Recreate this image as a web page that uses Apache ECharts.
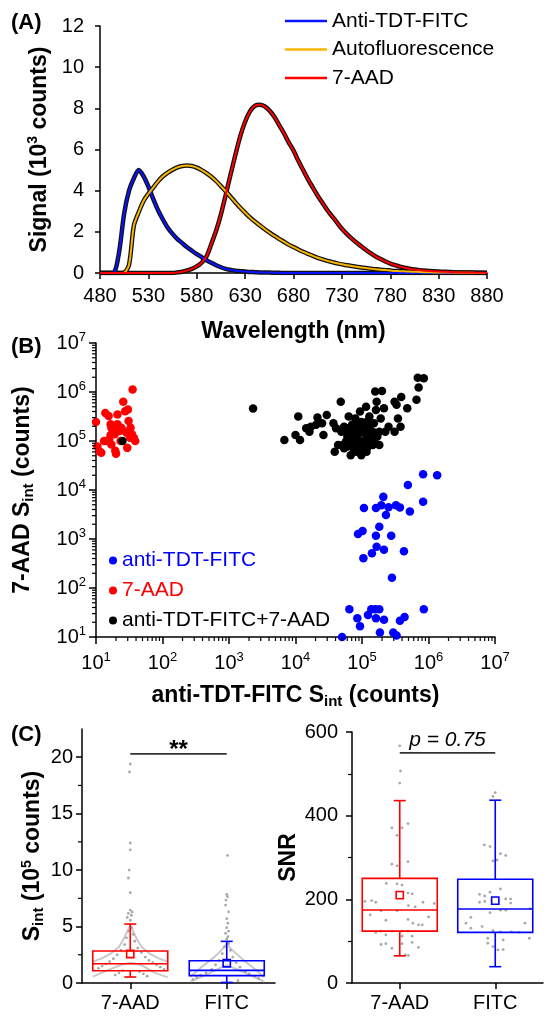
<!DOCTYPE html>
<html><head><meta charset="utf-8">
<script src="https://cdn.jsdelivr.net/npm/echarts@6.0.0/dist/echarts.min.js"></script>
<style>html,body{margin:0;padding:0;background:#fff;}#chart{width:550px;height:1018px;}</style>
</head><body><div id="chart"></div>
<script>
const FONT = 'Liberation Sans, Arial, sans-serif';

// ---------- Panel A: spectra ----------
const wavelengths = [
480,485,490,495,500,505,510,515,520,525,
530,535,540,545,550,555,560,565,570,575,
580,585,590,595,600,605,610,615,620,625,
630,635,640,645,650,655,660,665,670,675,
680,685,690,695,700,705,710,715,720,725,
730,735,740,745,750,755,760,765,770,775,
780,785,790,795,800,805,810,815,820,825,
830,835,840,845,850,855,860,865,870,875,
880];
const fitcSpectrum = [
0,0,0,0.05,1.1,2.9,4.0,4.6,5.0,4.7,
4.2,3.6,3.05,2.6,2.2,1.9,1.65,1.45,1.25,1.08,
0.92,0.77,0.62,0.5,0.38,0.28,0.2,0.15,0.11,0.09,
0.07,0.05,0.04,0.03,0.02,0.02,0.01,0.01,0,0,
0,0,0,0,0,0,0,0,0,0,
0,0,0,0,0,0,0,0,0,0,
0,0,0,0,0,0,0,0,0,0,
0,0,0,0,0,0,0,0,0,0,
0];
const autoSpectrum = [
0,0,0,0,0,0.02,0.4,2.3,2.95,3.5,
3.85,4.15,4.45,4.7,4.88,5.02,5.13,5.2,5.22,5.2,
5.12,5.0,4.85,4.68,4.47,4.22,3.97,3.7,3.43,3.17,
2.93,2.7,2.5,2.32,2.14,1.97,1.81,1.66,1.52,1.38,
1.26,1.14,1.03,0.93,0.83,0.74,0.66,0.59,0.53,0.47,
0.42,0.38,0.34,0.3,0.27,0.24,0.21,0.18,0.16,0.14,
0.12,0.1,0.09,0.08,0.07,0.06,0.05,0.04,0.04,0.03,
0.03,0.02,0.02,0.02,0.01,0.01,0.01,0.01,0,0,
0];
const aadSpectrum = [
0,0,0,0,0,0,0,0,0,0,
0,0,0,0,0,0,0.03,0.06,0.12,0.2,
0.32,0.5,0.8,1.4,2.05,2.85,3.8,4.8,5.75,6.65,
7.35,7.85,8.12,8.17,8.1,7.9,7.6,7.2,6.8,6.35,
5.95,5.45,5.0,4.55,4.15,3.75,3.4,3.05,2.75,2.45,
2.15,1.9,1.68,1.48,1.3,1.12,0.95,0.8,0.68,0.56,
0.46,0.38,0.31,0.26,0.21,0.17,0.14,0.12,0.1,0.08,
0.07,0.06,0.05,0.04,0.03,0.03,0.02,0.02,0.01,0.01,
0];
const spectrumNames = ['Anti-TDT-FITC','Autofluorescence','7-AAD'];

// ---------- Panel B: integrated signals (counts) ----------
const fitcOnlyPts = [
[5.01e4,10],[1.35e6,2.0e4],[4.9e5,1.26e4],[8.3e5,2.09e4],[8.3e5,5.75e3],[5.25e5,3.63e3],
[2.09e5,7.24e3],[1.95e5,4.9e3],[1.07e5,4.27e3],[1.62e5,4.27e3],[2.51e5,4.47e3],[3.24e5,4.9e3],
[3.72e5,4.37e3],[2.29e5,3.09e3],[1.82e5,1.78e3],[8.71e4,1.26e3],[1.02e5,1.45e3],[1.62e5,1.17e3],
[2.75e5,1.17e3],[1.66e5,692],[1.41e5,513],[2.14e5,603],[4.27e5,562],[1.05e5,407],[2.82e5,162],
[6.46e4,37],[1.38e5,37],[1.58e5,37],[1.82e5,37],[1.23e5,28],[8.51e4,24],[1.62e5,24],[2.14e5,22.4],
[9.33e4,16.6],[4.37e5,25.7],[3.72e5,21.4],[8.5e5,37],[1.86e5,12.3],[2.95e5,12.3],[3.31e5,10.7]];
const aadOnlyPts = [
[10,2.45e5],[10.5,7.76e4],[11.5,6.03e4],[12,5.75e4],[13.8,3.72e5],[15.5,3.24e5],[16.6,2.19e5],
[17,1.86e5],[14.5,1.0e5],[15.8,1.07e5],[17,8.5e4],[18.6,1.86e5],[19,1.38e5],[19.5,6.3e4],[20,5.5e4],
[21,3.47e5],[21.9,1.58e5],[23.4,1.0e5],[25,1.66e5],[25.7,6.31e5],[27.5,4.07e5],[28.8,1.48e5],
[29.5,7.24e4],[30.2,4.37e5],[30.9,2.57e5],[33.1,1.86e5],[34.7,1.38e5],[35.5,1.12e6],[37,1.17e5],
[38.9,1.0e5],[32.4,1.17e5],[16.6,1.32e5],[13.2,1.0e5],[21,2.19e5],[24,1.86e5]];
const bothPts = [
[25,1.0e5],[2.3e3,4.6e5],
[6.8e3,1.05e5],[1.0e4,1.32e5],[1.1e4,3.16e5],[1.17e4,1.05e5],[1.45e4,1.82e5],[1.62e4,1.55e5],
[1.7e4,1.95e5],[2.04e4,2.14e5],[2.14e4,3.02e5],[2.51e4,2.29e5],[2.63e4,1.32e5],[2.95e4,3.39e5],
[3.72e4,2.29e5],[4.07e4,1.82e5],[4.79e4,6.31e5],[4.37e4,8.32e4],[3.89e4,6.03e4],[4.9e4,1.55e5],
[5.37e4,1.95e5],[5.75e4,1.55e5],[5.13e4,8.32e4],[6.03e4,1.23e5],[6.76e4,5.13e4],[6.31e4,3.16e5],
[7.08e4,2.14e5],[7.41e4,1.32e5],[7.94e4,9.77e4],[8.32e4,1.82e5],[8.91e4,7.76e4],[9.33e4,3.98e5],
[9.77e4,2.45e5],[1.05e5,1.55e5],[1.1e5,1.05e5],[1.15e5,5.01e5],[1.17e5,6.03e4],[1.23e5,1.95e5],
[1.29e5,3.16e5],[1.38e5,1.32e5],[1.45e5,8.32e4],[1.51e5,2.29e5],[1.62e5,4.27e5],[1.66e5,6.31e5],
[1.7e5,1.23e5],[1.82e5,8.32e4],[1.91e5,2.88e5],[2.0e5,1.05e6],[1.58e5,1.02e6],[2.14e5,4.68e5],
[2.24e5,1.55e5],[2.51e5,1.95e5],[3.09e5,1.55e5],[3.31e5,5.5e5],[3.47e5,2.88e5],[3.09e5,6.31e5],
[3.89e5,7.94e5],[3.8e5,1.95e5],[4.79e5,4.68e5],[6.6e5,6.92e5],[7.1e5,1.23e6],[6.9e5,1.95e6],
[8.5e5,1.91e6],
[7.41e4,1.82e5],[8.32e4,1.23e5],[9.33e4,9.77e4],[1.05e5,2.14e5],[1.17e5,1.45e5],[1.29e5,9.77e4],
[6.76e4,9.77e4],[7.41e4,7.08e4],[9.33e4,1.45e5],[1.23e5,7.76e4],[1.45e5,1.55e5],[9.77e4,7.08e4],
[7.08e4,1.45e5],[1.1e5,1.66e5],[1.38e5,2.29e5],[8.91e4,2.29e5],[6.31e4,1.82e5],[7.94e4,2.88e5],
[1.17e5,2.45e5],[1.51e5,1.05e5],[5.75e4,9.77e4],[5.37e4,7.08e4],[8.32e4,6.03e4],[1.05e5,8.32e4],
[1.29e5,1.82e5],[1.82e5,1.55e5],[9.77e4,5.13e4],[6.03e4,7.76e4]];
const scatterNames = ['anti-TDT-FITC','7-AAD ','anti-TDT-FITC+7-AAD'];

// ---------- Panel C: box charts ----------
const boxCategories = ['7-AAD','FITC'];
const sintBox = [[0.53,1.09,1.71,2.83,5.22],[0.05,0.65,1.12,1.97,3.69]]; // min,Q1,median,Q3,max (1e5 counts)
const sintMean = [2.57,1.75];
const snrBox = [[65,124,174.5,250,436],[39,121,177,248,437]];
const snrMean = [210,197];
// jittered raw points: [offset (fraction of box half width), value]
const sintDotsAAD = [[0,19.4],[-0.02,18.7],[0,12.4],[0,11.8],[-0.03,10.0],[-0.05,9.3],[0,8.0],[0,6.46],[0.05,6.3],[-0.05,6.17],[0.03,6.0],[-0.08,5.8],[0,5.56],[0.04,4.9],[-0.04,4.6],[0.08,4.3],[-0.1,4.0],[0.12,3.7],[-0.15,3.4],[0.2,3.1],[-0.25,2.9],[0.3,2.7],[-0.35,2.5],[0.4,2.3],[-0.45,2.15],[0.5,2.0],[-0.55,1.9],[0.6,1.8],[-0.65,1.7],[0.7,1.6],[-0.75,1.5],[0.8,1.4],[-0.85,1.3],[0.9,1.2],[-0.2,1.1],[0.25,1.0],[-0.3,0.9],[0.35,0.8],[-0.4,0.7],[0.45,0.6]];
const sintDotsFITC = [[0.02,11.3],[0,7.85],[0.02,7.65],[-0.02,7.35],[-0.03,6.9],[0.05,6.3],[0,5.7],[0.03,5.3],[0,4.9],[0.05,4.6],[-0.03,4.4],[0.03,4.1],[0,3.9],[0.05,3.5],[-0.06,3.2],[0.1,2.9],[-0.12,2.6],[0.16,2.3],[-0.2,2.0],[0.25,1.8],[-0.3,1.6],[0.35,1.4],[-0.4,1.2],[0.5,1.0],[-0.55,0.9],[0.6,0.8],[-0.7,0.7],[0.75,0.6],[-0.8,0.5],[0.85,0.4],[-0.9,0.3],[0.3,0.2]];
const snrDotsAAD = [[0,567],[0.02,507],[0,478],[-0.21,371],[0.06,371],[0.22,381],[-0.07,353],[-0.21,284],[-0.07,280],[0.22,290],[-0.36,238],[-0.07,237],[0.06,234],[0.22,215],[0.33,213],[-0.75,197],[-0.93,195],[-0.64,193],[0.92,190],[0.62,193],[-0.5,173],[-0.07,173],[0.23,185],[0.41,182],[-0.79,163],[-0.37,150],[0.22,152],[0.35,143],[0.5,139],[0.6,139],[0.77,158],[-0.5,124],[-0.21,124],[0.06,124],[0.22,124],[-0.64,121],[-0.37,115],[0.06,112],[0.33,112],[0.5,85],[-0.37,94],[-0.5,92],[-0.21,83],[0.06,94],[0.33,97],[0.23,66],[0.15,67]];
const snrDotsFITC = [[0,455],[-0.06,446],[-0.29,330],[-0.14,326],[0.14,309],[0.28,305],[0.05,294],[-0.06,292],[0.14,225],[-0.14,217],[-0.42,212],[-0.28,208],[0.28,201],[0.41,201],[-0.28,195],[0.41,191],[-0.42,193],[0.14,174],[0.28,174],[-0.14,168],[-0.65,157],[-0.78,143],[-0.35,135],[0.93,178],[0.79,143],[-0.65,131],[-0.06,125],[0.14,122],[0.43,122],[0.64,121],[0.91,107],[-0.2,107],[0.21,103],[-0.2,95],[-0.06,87],[0.07,79],[0.21,80]];
// distribution curves: [offset, value]
const sintCurvesAAD = [
 [[-1,1.89],[-0.76,2.18],[-0.53,2.57],[-0.3,3.2],[-0.17,3.95],[0,5.1],[0.17,3.95],[0.3,3.2],[0.53,2.57],[0.76,2.18],[1,1.89]],
 [[-1,0.56],[-0.63,1.09],[-0.26,1.59],[0,1.8],[0.29,1.59],[0.66,0.9],[1,0.5]]];
const sintCurvesFITC = [
 [[-0.97,0.56],[-0.68,1.39],[-0.34,2.27],[-0.12,3.0],[0,3.5],[0.12,3.0],[0.42,2.1],[0.76,1.2],[1,0.5]],
 [[-0.97,0.12],[-0.5,0.8],[-0.08,1.5],[0,1.59],[0.42,1.0],[1,0.12]]];
const sigLabels = ['**','p = 0.75'];
const sigLevels = [20.3, 550];
const sintMinorTicks = [2.5,7.5,12.5,17.5];

const boxColors = ['#ff0000','#0000ff'];
const HALF = 37.5;

// ---------- helpers ----------
function merge(a,b){const o=Object.assign({},a);for(const k in b){if(b[k]&&typeof b[k]==='object'&&!Array.isArray(b[k])&&a[k]&&typeof a[k]==='object'){o[k]=merge(a[k],b[k]);}else o[k]=b[k];}return o;}
const axisBase = {
  axisLine:{show:true,onZero:false,lineStyle:{color:'#000',width:1.5}},
  axisTick:{show:true,inside:false,length:6,lineStyle:{color:'#000',width:1.5}},
  axisLabel:{color:'#000',fontFamily:FONT,fontSize:20},
  splitLine:{show:false},
  nameLocation:'middle',
  nameTextStyle:{color:'#000',fontFamily:FONT,fontSize:23,fontWeight:'bold',
    rich:{sup:{fontFamily:FONT,fontSize:14,fontWeight:'bold',verticalAlign:'top',lineHeight:26},
          sub:{fontFamily:FONT,fontSize:15,fontWeight:'bold',verticalAlign:'bottom',lineHeight:26}}}
};
function ax(o){return merge(axisBase,o);}
const supLabel = v => '10{s|' + Math.round(Math.log10(v)) + '}';
const supRich = {s:{fontFamily:FONT,fontSize:13,verticalAlign:'top',lineHeight:24}};

// minor ticks for log axes
const logMinor = [];
for (let k=1;k<=6;k++) for (let m=2;m<=9;m++) logMinor.push(m*Math.pow(10,k));

function minorTickSeries(xi, yi, data, dir, len){
  return {type:'custom', xAxisIndex:xi, yAxisIndex:yi, silent:true, clip:false, z:10,
    data:data,
    renderItem(params, api){
      const cs = params.coordSys;
      const p = api.coord([api.value(0), api.value(1)]);
      if (dir==='x') return {type:'line',shape:{x1:p[0],y1:cs.y+cs.height,x2:p[0],y2:cs.y+cs.height+len},style:{stroke:'#000',lineWidth:1.2}};
      return {type:'line',shape:{x1:cs.x-len,y1:p[1],x2:cs.x,y2:p[1]},style:{stroke:'#000',lineWidth:1.2}};
    }};
}

function boxSeries(xi, yi, stats, means){
  return {type:'custom', xAxisIndex:xi, yAxisIndex:yi, silent:true, z:6, clip:false,
    data: stats.map((s,i)=>[i,s[0],s[1],s[2],s[3],s[4],means[i]]),
    renderItem(params, api){
      const i = api.value(0), col = boxColors[i];
      const P = v => api.coord([i, v]);
      const xc = P(api.value(3))[0];
      const yMin=P(api.value(1))[1], yQ1=P(api.value(2))[1], yMed=P(api.value(3))[1], yQ3=P(api.value(4))[1], yMax=P(api.value(5))[1], yMean=P(api.value(6))[1];
      const st = () => ({stroke:col, lineWidth:1.6, fill:'none'});
      const cap = 6, ms = 3.6;
      return {type:'group', children:[
        {type:'line',shape:{x1:xc,y1:yQ3,x2:xc,y2:yMax},style:st()},
        {type:'line',shape:{x1:xc,y1:yQ1,x2:xc,y2:yMin},style:st()},
        {type:'line',shape:{x1:xc-cap,y1:yMax,x2:xc+cap,y2:yMax},style:st()},
        {type:'line',shape:{x1:xc-cap,y1:yMin,x2:xc+cap,y2:yMin},style:st()},
        {type:'rect',shape:{x:xc-HALF,y:yQ3,width:2*HALF,height:yQ1-yQ3},style:st()},
        {type:'line',shape:{x1:xc-HALF,y1:yMed,x2:xc+HALF,y2:yMed},style:st()},
        {type:'rect',shape:{x:xc-ms,y:yMean-ms,width:2*ms,height:2*ms},style:st()}
      ]};
    }};
}

function dotSeries(xi, yi, dotsByCat){
  const data = [];
  dotsByCat.forEach((arr,ci)=>arr.forEach(d=>data.push([ci,d[1],d[0]])));
  return {type:'custom', xAxisIndex:xi, yAxisIndex:yi, silent:true, z:4,
    data:data,
    renderItem(params, api){
      const p = api.coord([api.value(0), api.value(1)]);
      return {type:'circle',shape:{cx:p[0]+api.value(2)*HALF,cy:p[1],r:1.4},style:{fill:'#a9a9a9'}};
    }};
}

function curveSeries(xi, yi, curvesByCat){
  const data = [];
  curvesByCat.forEach((curves,ci)=>curves.forEach((c,k)=>data.push([ci,k])));
  return {type:'custom', xAxisIndex:xi, yAxisIndex:yi, silent:true, z:3,
    data:data,
    renderItem(params, api){
      const ci = api.value(0), k = api.value(1);
      const pts = curvesByCat[ci][k].map(d=>{const p=api.coord([ci,d[1]]);return [p[0]+d[0]*HALF,p[1]];});
      return {type:'polyline',shape:{points:pts},style:{stroke:'#c9c9c9',lineWidth:2,fill:'none'}};
    }};
}

function sigSeries(xi, yi, idx, textStyle, dy){
  return {type:'custom', xAxisIndex:xi, yAxisIndex:yi, silent:true, z:8,
    data:[[0, sigLevels[idx]]],
    renderItem(params, api){
      const a = api.coord([0, api.value(1)]), b = api.coord([1, api.value(1)]);
      return {type:'group',children:[
        {type:'line',shape:{x1:a[0],y1:a[1],x2:b[0],y2:b[1]},style:{stroke:'#333',lineWidth:1.6}},
        {type:'text',style:Object.assign({text:sigLabels[idx],x:(a[0]+b[0])/2,y:a[1]+dy,align:'center',fill:'#000',fontFamily:FONT},textStyle)}
      ]};
    }};
}

const spectrumColors = ['#0a14ff','#f7b500','#ff0000'];
const spectra = [fitcSpectrum, autoSpectrum, aadSpectrum];

const series = [];
spectra.forEach((s,i)=>series.push({type:'line', name:'meas'+i, xAxisIndex:0, yAxisIndex:0, silent:true,
  data:wavelengths.map((w,j)=>[w,s[j]]), showSymbol:false, smooth:0.3, z:2,
  lineStyle:{color:'#111',width:4.5}, itemStyle:{color:'#111'}}));
spectra.forEach((s,i)=>series.push({type:'line', name:spectrumNames[i], xAxisIndex:0, yAxisIndex:0, silent:true,
  data:wavelengths.map((w,j)=>[w,s[j]]), showSymbol:false, smooth:0.3, z:3,
  lineStyle:{color:spectrumColors[i],width:2}, itemStyle:{color:spectrumColors[i]}}));

const scatterColors = ['#0000ff','#ff0000','#000000'];
[fitcOnlyPts, aadOnlyPts, bothPts].forEach((pts,i)=>series.push({type:'scatter', name:scatterNames[i],
  xAxisIndex:1, yAxisIndex:1, data:pts, symbolSize:8.5, silent:true, z:3+i,
  itemStyle:{color:scatterColors[i], opacity:1}}));
series.push(minorTickSeries(1,1,logMinor.map(v=>[v,10]),'x',4));
series.push(minorTickSeries(1,1,logMinor.map(v=>[10,v]),'y',4));

series.push(curveSeries(2,2,[sintCurvesAAD,sintCurvesFITC]));
series.push(dotSeries(2,2,[sintDotsAAD,sintDotsFITC]));
series.push(boxSeries(2,2,sintBox,sintMean));
series.push(minorTickSeries(2,2,sintMinorTicks.map(v=>[0,v]),'y',4));
series.push(sigSeries(2,2,0,{fontSize:24,fontWeight:'bold',verticalAlign:'middle'},-3));

series.push(dotSeries(3,3,[snrDotsAAD,snrDotsFITC]));
series.push(boxSeries(3,3,snrBox,snrMean));
series.push(sigSeries(3,3,1,{fontSize:21,fontStyle:'italic',verticalAlign:'bottom'},-2.5));

const option = {
  animation:false,
  backgroundColor:'#fff',
  title:[
    {text:'(A)',left:6,top:7,textStyle:{fontFamily:FONT,fontSize:22,fontWeight:'bold',color:'#000'}},
    {text:'(B)',left:6,top:331,textStyle:{fontFamily:FONT,fontSize:22,fontWeight:'bold',color:'#000'}},
    {text:'(C)',left:6,top:719,textStyle:{fontFamily:FONT,fontSize:22,fontWeight:'bold',color:'#000'}}
  ],
  legend:[
    {data:spectrumNames, orient:'vertical', left:280, top:5.5, itemWidth:42, itemHeight:2.5, itemGap:7.5,
     icon:'rect', selectedMode:false, textStyle:{fontFamily:FONT,fontSize:21,color:'#000',lineHeight:21}},
    {data:scatterNames.map((n,i)=>({name:n,textStyle:{color:scatterColors[i]}})), orient:'vertical', left:104, top:545,
     itemWidth:8, itemHeight:8, itemGap:9, icon:'circle', selectedMode:false,
     textStyle:{fontFamily:FONT,fontSize:21,lineHeight:21}}
  ],
  grid:[
    {left:100, top:26, width:387, height:247},
    {left:96, top:343, width:399, height:294},
    {left:82, top:729, width:193, height:254},
    {left:352, top:732, width:191, height:251}
  ],
  xAxis:[
    ax({type:'value',gridIndex:0,min:480,max:880,interval:50,name:'Wavelength (nm)',nameGap:47,
        axisLabel:{margin:13}}),
    ax({type:'log',gridIndex:1,min:10,max:1e7,logBase:10,name:'anti-TDT-FITC S{sub|int} (counts)',nameGap:46,
        axisTick:{length:7},axisLabel:{margin:14,formatter:supLabel,rich:supRich}}),
    ax({type:'category',gridIndex:2,data:boxCategories,axisTick:{alignWithLabel:true},axisLabel:{margin:10}}),
    ax({type:'category',gridIndex:3,data:boxCategories,axisTick:{alignWithLabel:true},axisLabel:{margin:10}})
  ],
  yAxis:[
    ax({type:'value',gridIndex:0,min:0,max:12,interval:2,name:'Signal (10{sup|3} counts)',nameGap:46,
        axisTick:{length:5},axisLabel:{margin:16}}),
    ax({type:'log',gridIndex:1,min:10,max:1e7,logBase:10,name:'7-AAD S{sub|int} (counts)',nameGap:60,
        axisTick:{length:7},axisLabel:{margin:10,formatter:supLabel,rich:supRich}}),
    ax({type:'value',gridIndex:2,min:0,max:22.5,interval:5,name:'S{sub|int} (10{sup|5} counts)',nameGap:36,
        axisLabel:{margin:9,showMaxLabel:false}}),
    ax({type:'value',gridIndex:3,min:0,max:600,interval:200,name:'SNR',nameGap:52,
        minorTick:{show:true,splitNumber:2,length:4,lineStyle:{color:'#000',width:1.2}},
        axisLabel:{margin:14}})
  ],
  series:series
};
const chart = echarts.init(document.getElementById('chart'), null, {renderer:'canvas'});
chart.setOption(option);
</script></body></html>
